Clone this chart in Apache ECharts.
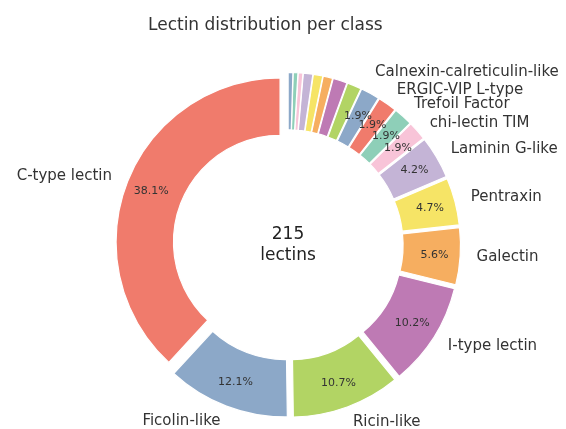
<!DOCTYPE html>
<html><head><meta charset="utf-8">
<script src="https://cdn.jsdelivr.net/npm/echarts@6/dist/echarts.min.js"></script>
<style>html,body{margin:0;padding:0;background:#fff}#c{width:566px;height:429px}</style>
</head><body><div id="c"></div>
<script>
// Data (counts per lectin class, counter-clockwise from 12 o'clock)
const categories = ['C-type lectin','Ficolin-like','Ricin-like','I-type lectin','Galectin','Pentraxin',
  'Laminin G-like','chi-lectin TIM','Trefoil Factor','ERGIC-VIP L-type','Calnexin-calreticulin-like',
  '','','','','','','',''];
const values = [82,26,23,22,12,10,9,4,4,4,4,3,3,2,2,2,1,1,1];
const SALMON='#f07b6c', BLUE='#8ca8c8', GREEN='#b2d464', PURPLE='#be7ab4', ORANGE='#f6ae60',
      YELLOW='#f6e466', LAVENDER='#c4b4d6', PINK='#f8c4d8', TEAL='#8ecfb8';
const sliceColors = [SALMON,BLUE,GREEN,PURPLE,ORANGE,YELLOW,LAVENDER,PINK,TEAL,
                     SALMON,BLUE,GREEN,PURPLE,ORANGE,YELLOW,LAVENDER,PINK,TEAL,BLUE];
const titleText = 'Lectin distribution per class';
const centerUnit = 'lectins';

const total = values.reduce((a,b)=>a+b,0);
const CX = 288, CY = 245, R = 164, R0 = 0.65*R, EXPLODE = 0.052*R;
const FONT = 'DejaVu Sans';
// small manual nudges of crowded outer labels (as in the reference)
const labelNudge = {'Calnexin-calreticulin-like':[-3,-7], 'chi-lectin TIM':[0,3]};
const series = [];
let cum = 0;
values.forEach((v,i)=>{
  const mid = (cum + v/2)/total*2*Math.PI;
  cum += v;
  const ang = Math.PI/2 + mid;
  const center = [CX + EXPLODE*Math.cos(ang), CY - EXPLODE*Math.sin(ang)];
  const pct = v/total*100;
  series.push({
    type:'pie', center, radius:[R0,R], startAngle:90, clockwise:false,
    avoidLabelOverlap:false, silent:true, animation:false,
    labelLine:{show:false}, labelLayout:{hideOverlap:false},
    label:{show:false},
    data: values.map((vv,j)=>({
      value:vv, name:categories[j],
      itemStyle: j===i ? {color:sliceColors[j], borderColor:'#fff', borderWidth:1.2}
                       : {color:'rgba(0,0,0,0)', borderWidth:0},
      label: j===i ? {show: pct>1.5, position:'inside', formatter: ()=>pct.toFixed(1)+'%',
                      fontSize:11, color:'#333', fontFamily:FONT, textBorderWidth:0}
                   : {show:false}
    }))
  });
  if (categories[i]) {
    series.push({
      type:'pie', center, radius:[R0,R], startAngle:90, clockwise:false,
      avoidLabelOverlap:false, silent:true, animation:false,
      labelLine:{show:false, length:0.1*R, length2:0},
      labelLayout:{hideOverlap:false},
      label:{show:false, position:'outside', distanceToLabelLine:0, fontSize:15, color:'#333',
             fontFamily:FONT, width:230, overflow:'none', textBorderWidth:0},
      data: values.map((vv,j)=>({
        value:vv, name:categories[j],
        itemStyle:{color:'rgba(0,0,0,0)', borderWidth:0},
        label: j===i ? {show:true, offset: labelNudge[categories[j]] || [0,0]} : {show:false}
      }))
    });
  }
});

const chart = echarts.init(document.getElementById('c'), null, {renderer:'canvas'});
chart.setOption({
  backgroundColor:'#fff',
  animation:false,
  title:{text:titleText, left:143, top:12,
    textStyle:{fontSize:17, fontWeight:'normal', color:'#333', fontFamily:FONT}},
  graphic:[{type:'text', x:CX, y:CY, silent:true,
    style:{text: total + '\n' + centerUnit, align:'center', verticalAlign:'middle',
      fontSize:17, lineHeight:21, fill:'#222', fontFamily:FONT}}],
  series
});
</script></body></html>
